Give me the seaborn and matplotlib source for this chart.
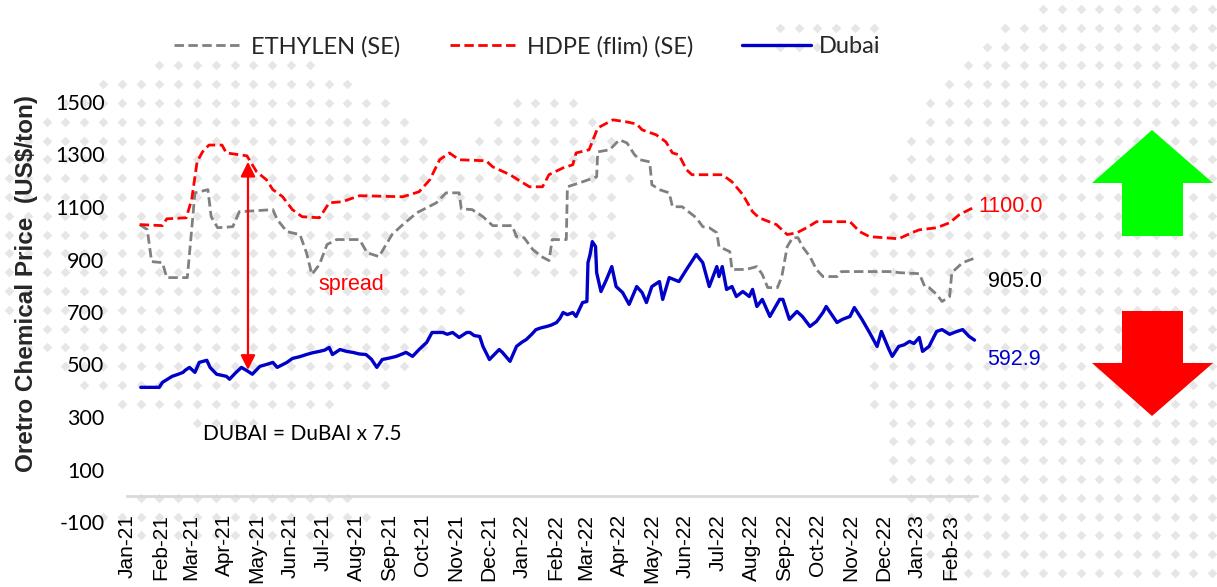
import numpy as np
import pandas as pd
import matplotlib
matplotlib.use("Agg")
import matplotlib.pyplot as plt
import matplotlib.dates as mdates
from matplotlib.patches import Polygon
import seaborn as sns

# ---------------- data ----------------
series_names = ["ETHYLEN (SE)", "HDPE (flim) (SE)", "Dubai"]

ethylene_dates = [
    "2021-01-13", "2021-01-20", "2021-01-24", "2021-02-03", "2021-02-07", "2021-02-26",
    "2021-03-02", "2021-03-05", "2021-03-17", "2021-03-20", "2021-03-26", "2021-04-09",
    "2021-04-15", "2021-05-16", "2021-05-20", "2021-05-29", "2021-06-10", "2021-06-16",
    "2021-06-21", "2021-06-28", "2021-07-05", "2021-07-14", "2021-08-04", "2021-08-11",
    "2021-08-22", "2021-09-03", "2021-09-13", "2021-09-26", "2021-10-14", "2021-10-23",
    "2021-11-04", "2021-11-06", "2021-11-16", "2021-11-26", "2021-12-05", "2021-12-23",
    "2021-12-27", "2022-01-03", "2022-01-11", "2022-01-19", "2022-01-26", "2022-01-29",
    "2022-02-11", "2022-02-12", "2022-02-26", "2022-03-11", "2022-03-12", "2022-03-23",
    "2022-04-01", "2022-04-08", "2022-04-15", "2022-04-20", "2022-04-29", "2022-05-01",
    "2022-05-08", "2022-05-17", "2022-05-20", "2022-05-29", "2022-06-11", "2022-06-17",
    "2022-06-23", "2022-06-30", "2022-07-02", "2022-07-12", "2022-07-14", "2022-07-27",
    "2022-08-06", "2022-08-11", "2022-08-16", "2022-08-25", "2022-08-29", "2022-09-03",
    "2022-09-08", "2022-09-13", "2022-09-17", "2022-09-24", "2022-09-30", "2022-10-06",
    "2022-10-19", "2022-10-23", "2022-12-09", "2022-12-15", "2023-01-03", "2023-01-08",
    "2023-01-12", "2023-01-19", "2023-01-24", "2023-01-31", "2023-02-02", "2023-02-12",
    "2023-02-23",
]
ethylene_values = [
    1033, 1014, 892, 888, 831, 831,
    1014, 1154, 1166, 1063, 1021, 1025,
    1082, 1090, 1052, 1006, 995, 926,
    843, 881, 957, 976, 976, 926,
    911, 995, 1033, 1078, 1116, 1154,
    1154, 1093, 1090, 1063, 1029, 1029,
    987, 983, 938, 911, 896, 976,
    976, 1177, 1196, 1215, 1310, 1318,
    1356, 1344, 1299, 1280, 1272, 1185,
    1166, 1154, 1101, 1101, 1059, 1025,
    1021, 1002, 949, 930, 862, 862,
    873, 843, 793, 793, 835, 949,
    983, 983, 949, 911, 862, 835,
    835, 854, 854, 850, 846, 797,
    793, 767, 740, 759, 850, 888,
    905.0,
]

hdpe_dates = [
    "2021-01-13", "2021-02-03", "2021-02-07", "2021-02-25", "2021-03-02", "2021-03-07",
    "2021-03-12", "2021-03-18", "2021-03-30", "2021-04-03", "2021-04-22", "2021-05-01",
    "2021-05-10", "2021-05-16", "2021-05-25", "2021-06-03", "2021-06-12", "2021-06-28",
    "2021-07-07", "2021-07-19", "2021-08-04", "2021-09-13", "2021-09-28", "2021-10-08",
    "2021-10-17", "2021-10-26", "2021-11-04", "2021-11-29", "2021-12-05", "2021-12-21",
    "2022-01-02", "2022-01-08", "2022-01-20", "2022-01-26", "2022-02-08", "2022-02-17",
    "2022-02-20", "2022-03-04", "2022-03-12", "2022-03-26", "2022-04-08", "2022-04-17",
    "2022-04-22", "2022-05-05", "2022-05-14", "2022-05-20", "2022-05-26", "2022-06-02",
    "2022-06-07", "2022-07-05", "2022-07-14", "2022-07-24", "2022-08-02", "2022-08-08",
    "2022-08-24", "2022-09-03", "2022-09-12", "2022-09-21", "2022-09-30", "2022-10-31",
    "2022-11-09", "2022-11-18", "2022-12-15", "2022-12-27", "2023-01-03", "2023-01-19",
    "2023-01-31", "2023-02-09", "2023-02-23",
]
hdpe_values = [
    1033, 1029, 1055, 1059, 1128, 1272,
    1310, 1336, 1336, 1306, 1295, 1234,
    1204, 1166, 1139, 1090, 1063, 1059,
    1116, 1120, 1143, 1139, 1158, 1204,
    1280, 1306, 1280, 1276, 1253, 1223,
    1192, 1177, 1177, 1223, 1249, 1261,
    1306, 1318, 1401, 1432, 1424, 1416,
    1394, 1375, 1348, 1306, 1299, 1242,
    1223, 1223, 1196, 1147, 1082, 1059,
    1033, 995, 1002, 1021, 1044, 1044,
    1006, 987, 979, 1002, 1013, 1021,
    1040, 1071, 1100.0,
]

dubai_dates = [
    "2021-01-14", "2021-01-22", "2021-01-31", "2021-02-03", "2021-02-08", "2021-02-12",
    "2021-02-17", "2021-02-22", "2021-02-24", "2021-02-28", "2021-03-05", "2021-03-09",
    "2021-03-16", "2021-03-19", "2021-03-25", "2021-04-03", "2021-04-06", "2021-04-12",
    "2021-04-17", "2021-04-23", "2021-04-27", "2021-05-04", "2021-05-10", "2021-05-16",
    "2021-05-20", "2021-05-29", "2021-06-03", "2021-06-10", "2021-06-16", "2021-06-22",
    "2021-06-28", "2021-07-03", "2021-07-07", "2021-07-10", "2021-07-17", "2021-07-23",
    "2021-07-29", "2021-08-04", "2021-08-10", "2021-08-15", "2021-08-20", "2021-08-25",
    "2021-09-01", "2021-09-07", "2021-09-16", "2021-09-22", "2021-09-28", "2021-10-05",
    "2021-10-10", "2021-10-20", "2021-10-24", "2021-10-29", "2021-11-04", "2021-11-11",
    "2021-11-14", "2021-11-18", "2021-11-23", "2021-11-26", "2021-12-02", "2021-12-07",
    "2021-12-11", "2021-12-14", "2021-12-21", "2021-12-27", "2022-01-01", "2022-01-05",
    "2022-01-10", "2022-01-14", "2022-01-19", "2022-01-24", "2022-01-28", "2022-02-02",
    "2022-02-05", "2022-02-08", "2022-02-12", "2022-02-17", "2022-02-20", "2022-02-23",
    "2022-02-26", "2022-03-02", "2022-03-03", "2022-03-05", "2022-03-07", "2022-03-10",
    "2022-03-11", "2022-03-15", "2022-03-20", "2022-03-25", "2022-03-29", "2022-04-04",
    "2022-04-10", "2022-04-17", "2022-04-22", "2022-04-26", "2022-05-01", "2022-05-08",
    "2022-05-11", "2022-05-17", "2022-05-26", "2022-06-02", "2022-06-11", "2022-06-17",
    "2022-06-23", "2022-06-30", "2022-07-02", "2022-07-05", "2022-07-09", "2022-07-14",
    "2022-07-18", "2022-07-24", "2022-07-30", "2022-08-02", "2022-08-06", "2022-08-11",
    "2022-08-18", "2022-08-27", "2022-08-30", "2022-09-05", "2022-09-12", "2022-09-17",
    "2022-09-24", "2022-09-30", "2022-10-06", "2022-10-09", "2022-10-19", "2022-10-24",
    "2022-10-31", "2022-11-04", "2022-11-11", "2022-11-18", "2022-11-25", "2022-11-29",
    "2022-12-06", "2022-12-09", "2022-12-15", "2022-12-20", "2022-12-25", "2022-12-29",
    "2023-01-03", "2023-01-06", "2023-01-12", "2023-01-19", "2023-01-24", "2023-01-31",
    "2023-02-06", "2023-02-12", "2023-02-18", "2023-02-23",
]
dubai_values = [
    413, 413, 413, 432, 445, 455,
    462, 470, 478, 489, 470, 508,
    516, 489, 463, 455, 444, 470,
    489, 474, 463, 493, 500, 508,
    489, 508, 523, 530, 538, 545,
    550, 555, 565, 538, 557, 550,
    546, 540, 538, 520, 489, 519,
    525, 531, 546, 531, 557, 584,
    622, 622, 615, 622, 603, 622,
    622, 610, 607, 569, 519, 540,
    557, 546, 512, 569, 585, 595,
    615, 633, 640, 645, 650, 660,
    675, 698, 690, 698, 683, 710,
    736, 740, 888, 920, 968, 949,
    850, 778, 823, 873, 797, 774,
    729, 797, 774, 736, 797, 816,
    748, 831, 816, 862, 919, 888,
    797, 873, 835, 873, 786, 797,
    759, 778, 759, 786, 721, 748,
    683, 748, 748, 672, 702, 683,
    645, 664, 698, 721, 660, 672,
    683, 717, 672, 622, 569, 626,
    557, 531, 569, 575, 588, 580,
    603, 550, 569, 626, 633, 615,
    625, 633, 607, 592.9,
]

y_ticks = [-100, 100, 300, 500, 700, 900, 1100, 1300, 1500]
x_start, x_end = "2021-01-01", "2023-02-25"
spread_date = "2021-04-23"
y_title = "Oretro Chemical Price  (US$/ton)"
formula_text = "DUBAI = DuBAI x 7.5"
spread_text = "spread"

# ---------------- style ----------------
sns.set_theme(style="white")
NARROW = ["Liberation Sans Narrow", "Lato", "DejaVu Sans"]
ARIAL = ["Liberation Sans", "DejaVu Sans"]
plt.rcParams["font.family"] = NARROW
plt.rcParams["axes.unicode_minus"] = False

GRAY, RED, BLUE = "#808080", "#FF0000", "#0000C8"
DASH = (0, (3.4, 1.6))

W, H = 1217, 587
fig = plt.figure(figsize=(W / 100, H / 100), dpi=100)
fig.patch.set_facecolor("white")

# background layer in pixel units: dotted watermark and trend arrows
bg = fig.add_axes([0, 0, 1, 1], zorder=0)
bg.set_xlim(0, W)
bg.set_ylim(H, 0)
bg.axis("off")

gx = np.arange(9, W, 18.8)
gy = np.arange(9, H, 18.8)
GX, GY = np.meshgrid(gx, gy)


def ellipse(cx, cy, rx, ry):
    return ((GX - cx) / rx) ** 2 + ((GY - cy) / ry) ** 2 <= 1


mask = (ellipse(230, 240, 250, 185) | ellipse(545, 185, 85, 95) |
        ellipse(1095, 330, 230, 330) | ellipse(1160, 40, 120, 60) |
        ellipse(240, 515, 140, 30) | ellipse(830, 40, 60, 25))
bg.scatter(GX[mask], GY[mask], marker="D", s=24, color="#E6E6E6", linewidths=0)

up_arrow = [(1152, 130), (1213, 183), (1183, 183), (1183, 236),
            (1122, 236), (1122, 183), (1092, 183)]
down_arrow = [(1122, 311), (1183, 311), (1183, 363), (1213, 363),
              (1152, 416), (1092, 363), (1122, 363)]
bg.add_patch(Polygon(up_arrow, closed=True, facecolor="#00FF00", edgecolor="none", zorder=3))
bg.add_patch(Polygon(down_arrow, closed=True, facecolor="#FF0000", edgecolor="none", zorder=3))

# main chart
ax = fig.add_axes([126.7 / W, 65 / H, 850 / W, 420 / H], zorder=1)
ax.patch.set_alpha(0)

eth = pd.DataFrame({"date": pd.to_datetime(ethylene_dates), "value": ethylene_values})
hdpe = pd.DataFrame({"date": pd.to_datetime(hdpe_dates), "value": hdpe_values})
dub = pd.DataFrame({"date": pd.to_datetime(dubai_dates), "value": dubai_values})

sns.lineplot(data=eth, x="date", y="value", ax=ax, color=GRAY, lw=2.0,
             linestyle=DASH, label=series_names[0])
sns.lineplot(data=hdpe, x="date", y="value", ax=ax, color=RED, lw=2.0,
             linestyle=DASH, label=series_names[1])
sns.lineplot(data=dub, x="date", y="value", ax=ax, color=BLUE, lw=2.4,
             label=series_names[2])

ax.set_xlim(pd.Timestamp(x_start), pd.Timestamp(x_end))
ax.set_ylim(y_ticks[0], y_ticks[-1])
ax.set_yticks(y_ticks)
ax.xaxis.set_major_locator(mdates.MonthLocator())
ax.xaxis.set_major_formatter(mdates.DateFormatter("%b-%y"))
ax.set_xlabel("")
ax.set_ylabel("")

for side in ["top", "right", "left"]:
    ax.spines[side].set_visible(False)
ax.spines["bottom"].set_position(("data", 0))
ax.spines["bottom"].set_color("#D9D9D9")
ax.spines["bottom"].set_linewidth(2)

ax.tick_params(axis="x", direction="out", length=4, width=1.5, color="#D9D9D9",
               pad=9, labelsize=15, labelrotation=90, labelcolor="black")
ax.tick_params(axis="y", length=0, pad=16, labelsize=15.5, labelcolor="black")
for lab in ax.get_xticklabels():
    lab.set_fontfamily(ARIAL)

# spread arrow between HDPE and Dubai on one date
sd = mdates.date2num(pd.Timestamp(spread_date))
top = np.interp(sd, mdates.date2num(hdpe["date"]), hdpe["value"])
bottom = np.interp(sd, mdates.date2num(dub["date"]), dub["value"])
ax.annotate("", xy=(sd, top), xytext=(sd, bottom),
            arrowprops=dict(arrowstyle="<|-|>", color=RED, lw=1.6,
                            mutation_scale=22, shrinkA=1, shrinkB=3))
ax.text(0.264, 0.565, spread_text, transform=ax.transAxes, color=RED,
        fontsize=15.5, ha="center", va="center", family=ARIAL)
ax.text(0.207, 0.21, formula_text, transform=ax.transAxes, color="black",
        fontsize=15, ha="center", va="center")

# end-of-series value labels
for df, color, offset in [(hdpe, RED, (3, 0)), (eth, "black", (10, -17)),
                          (dub, BLUE, (9, -14))]:
    last = df.iloc[-1]
    ax.annotate(f"{last['value']:.1f}", xy=(mdates.date2num(last["date"]), last["value"]),
                xytext=offset, textcoords="offset points", color=color,
                fontsize=15.5, ha="left", va="center", family=ARIAL,
                annotation_clip=False)

# legend along the top
handles, labels = ax.get_legend_handles_labels()
if ax.get_legend() is not None:
    ax.get_legend().remove()
fig.legend(handles, labels, loc="center", bbox_to_anchor=(0.4334, 0.921), ncol=3,
           frameon=False, fontsize=17, handlelength=2.9, handletextpad=0.35,
           columnspacing=2.1)

fig.text(27 / W, (H - 283) / H, y_title, rotation=90, ha="center", va="center",
         fontsize=17.5, fontweight="bold", family=ARIAL)

fig.savefig("out.png", dpi=100, facecolor="white")
